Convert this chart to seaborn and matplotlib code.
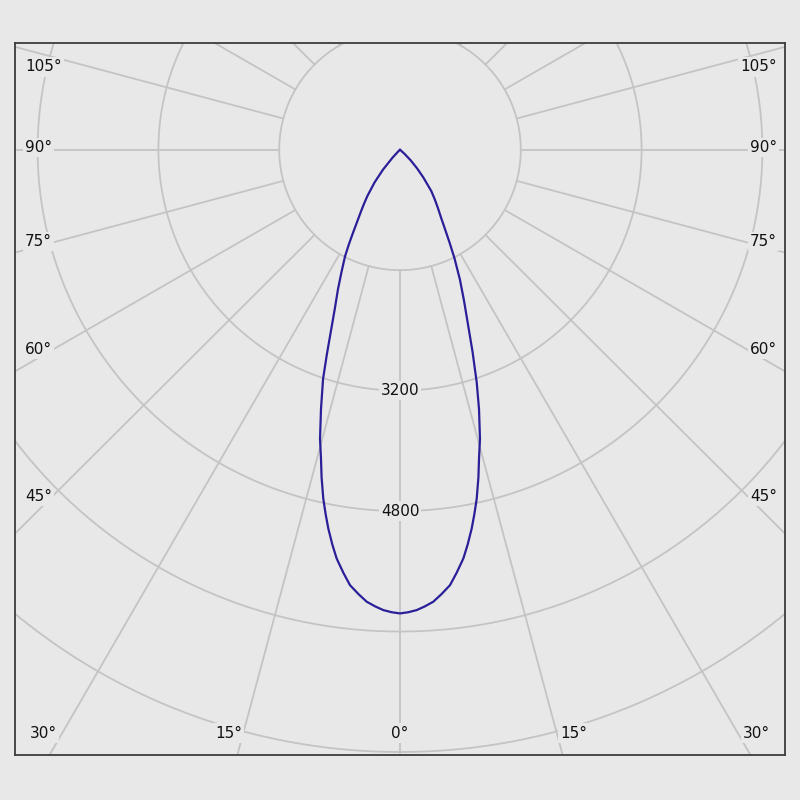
import numpy as np
import pandas as pd
import matplotlib
matplotlib.use("Agg")
import matplotlib.pyplot as plt
import seaborn as sns

# ---------------- data ----------------
# right half (C0): gamma angle (deg, 0 = straight down) and luminous intensity
gamma_c0 = [0, 1.0, 2.07, 3.1, 4.2, 5.3, 6.53, 7.6, 8.78, 9.7, 10.68, 11.5, 12.36,
            13.4, 14.3, 15.42, 16.9, 18.2, 19.7, 21.3, 22.9, 24.7, 26.6, 28.0, 29.4,
            31.0, 33.0, 35.0, 37.0, 40.0, 42.5, 45.0, 47.5, 50.0]
intensity_c0 = [6159, 6145, 6119, 6075, 6020, 5930, 5822, 5670, 5495, 5320, 5122, 4940, 4746,
                4480, 4237, 3984, 3600, 3253, 2850, 2470, 2180, 1900, 1610, 1400, 1220,
                1060, 920, 800, 690, 480, 330, 200, 80, 0]
# left half (C180)
gamma_c180 = [0, 1.0, 2.07, 3.1, 4.2, 5.3, 6.53, 7.6, 8.78, 9.7, 10.68, 11.5, 12.36,
              13.4, 14.3, 15.42, 16.9, 18.5, 19.6, 20.7, 22.3, 23.9, 25.5, 27.2, 28.3,
              29.4, 30.8, 32.2, 33.6, 35.1, 37.8, 40.4, 43.0, 46.0, 48.0]
intensity_c180 = [6159, 6145, 6119, 6075, 6020, 5930, 5822, 5670, 5495, 5320, 5122, 4940, 4746,
                  4480, 4237, 3984, 3600, 3212, 2890, 2600, 2270, 2028, 1800, 1593, 1430,
                  1270, 1100, 970, 860, 750, 550, 347, 150, 30, 0]

ring_values = [1600, 3200, 4800, 6400, 8000]
ring_label_values = [3200, 4800]
spoke_angles = list(range(0, 360, 15))
angle_label_text = ["105°", "90°", "75°", "60°", "45°", "30°", "15°", "0°", "15°", "30°",
                    "45°", "60°", "75°", "90°", "105°"]

# ---------------- style ----------------
BG = "#e8e8e8"
GRID = "#c4c4c4"
CURVE = "#2a1f98"
sns.set_style("white", {"axes.facecolor": BG, "figure.facecolor": BG})
plt.rcParams["font.family"] = ["DejaVu Sans"]

fig = plt.figure(figsize=(8, 8), dpi=100, facecolor=BG)
ax = fig.add_axes([15 / 800, 45 / 800, 770 / 800, 712 / 800])
ax.set_facecolor(BG)

s = 0.0755  # pixels per intensity unit
cx, cy = 400, 150
def px2d(px, py):
    return (px - cx) / s, (cy - py) / s

x0, y1 = px2d(15, 43)
x1, y0 = px2d(785, 757)
ax.set_xlim(x0, x1)
ax.set_ylim(y0, y1)

# ---------------- grid ----------------
t = np.linspace(0, 2 * np.pi, 721)
for r in ring_values:
    ax.plot(r * np.cos(t), r * np.sin(t), color=GRID, lw=1.3, zorder=1)
for a in spoke_angles:
    th = np.deg2rad(a)
    rr = np.array([ring_values[0], 20000])
    ax.plot(rr * np.sin(th), -rr * np.cos(th), color=GRID, lw=1.3, zorder=1)

box = dict(facecolor=BG, edgecolor="none", pad=1.5)
for v in ring_label_values:
    ax.text(0, -v, str(v), ha="center", va="center", fontsize=11, color="#111111",
            bbox=box, zorder=3)

# angle labels (pixel positions)
label_pos = [(25, 67, "left"), (25, 148, "left"), (25, 242, "left"), (25, 350, "left"),
             (25, 498, "left"), (30, 735, "left"), (242, 735, "right"), (400, 735, "center"),
             (560, 735, "left"), (743, 735, "left"), (777, 498, "right"), (777, 350, "right"),
             (777, 242, "right"), (777, 148, "right"), (777, 67, "right")]
for txt, (px, py, ha) in zip(angle_label_text, label_pos):
    xd, yd = px2d(px, py)
    ax.text(xd, yd, txt, ha=ha, va="center", fontsize=11, color="#111111", bbox=box, zorder=3)

# ---------------- curve ----------------
gl = np.deg2rad(np.array(gamma_c180))
gr = np.deg2rad(np.array(gamma_c0))
left = pd.DataFrame({"x": -np.array(intensity_c180) * np.sin(gl),
                     "y": -np.array(intensity_c180) * np.cos(gl)}).iloc[::-1]
right = pd.DataFrame({"x": np.array(intensity_c0) * np.sin(gr),
                      "y": -np.array(intensity_c0) * np.cos(gr)})
curve = pd.concat([left, right.iloc[1:]], ignore_index=True)
sns.lineplot(data=curve, x="x", y="y", sort=False, estimator=None, color=CURVE,
             lw=1.6, ax=ax, zorder=4)

ax.set_xticks([])
ax.set_yticks([])
ax.set_xlabel("")
ax.set_ylabel("")
for sp in ax.spines.values():
    sp.set_visible(True)
    sp.set_color("#3c3c3c")
    sp.set_linewidth(1.3)

fig.savefig("out.png", dpi=100, facecolor=BG)
